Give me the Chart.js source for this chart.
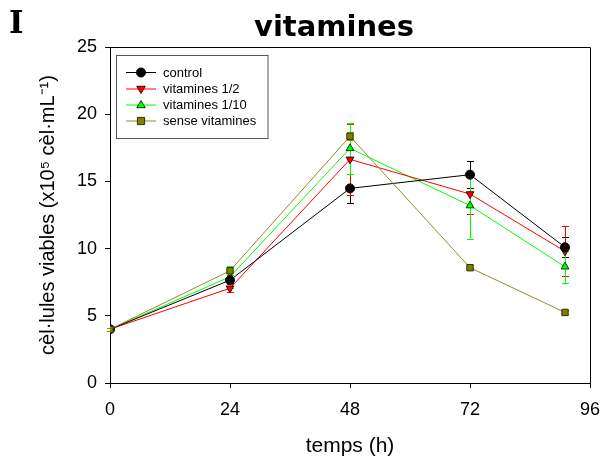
<!DOCTYPE html>
<html>
<head>
<meta charset="utf-8">
<script src="https://cdn.jsdelivr.net/npm/chart.js@4.4.1/dist/chart.umd.min.js"></script>
<style>
  body { margin: 0; background: #fff; }
  canvas { display: block; }
</style>
</head>
<body>
<canvas id="myChart" width="601" height="463"></canvas>
<script>
// temps (h)
var hours = [0, 24, 48, 72, 91];
var xTicks = [0, 24, 48, 72, 96];
var yTicks = [0, 5, 10, 15, 20, 25];

var labels = ['control', 'vitamines 1/2', 'vitamines 1/10', 'sense vitamines'];

var control = [4, 7.65, 14.48, 15.5, 10.1];
var controlErr = [0.1, 0.2, 1.1, 1.0, 0.75];

var vitHalf = [4, 7.05, 16.64, 14.06, 9.8];
var vitHalfErr = [0.1, 0.3, 2.65, 1.5, 1.85];

var vitTenth = [4, 7.9, 17.46, 13.2, 8.65];
var vitTenthErr = [0.1, 0.8, 1.9, 2.45, 1.2];

var noVit = [4, 8.35, 18.35, 8.58, 5.25];
var noVitErr = [0.1, 0.3, 0.3, 0.2, 0.15];

function pts(vals) {
    return vals.map(function (v, i) { return { x: hours[i], y: v }; });
}

var styles = [
    { line: '#000000', fill: '#000000', border: '#000000', shape: 'circle', rot: 0, err: '#000000' },
    { line: '#ff0000', fill: '#ff0000', border: '#400000', shape: 'triangle', rot: 180, err: '#ff0000' },
    { line: '#00ff00', fill: '#00ff00', border: '#004000', shape: 'triangle', rot: 0, err: '#00ff00' },
    { line: '#948a2c', fill: '#808000', border: '#303000', shape: 'rect', rot: 0, err: '#948a2c' }
];
var series = [control, vitHalf, vitTenth, noVit];
var errors = [controlErr, vitHalfErr, vitTenthErr, noVitErr];
var orders = [2, 3, 4, 1];

var datasets = series.map(function (s, i) {
    return {
        label: labels[i],
        data: pts(s),
        err: errors[i],
        borderColor: styles[i].line,
        borderWidth: 1,
        pointBackgroundColor: styles[i].fill,
        pointBorderColor: styles[i].border,
        pointBorderWidth: 1,
        pointStyle: styles[i].shape,
        pointRotation: styles[i].rot,
        pointRadius: 4.5,
        tension: 0,
        order: orders[i]
    };
});

var errorBars = {
    id: 'errorBars',
    beforeDatasetsDraw: function (chart) {
        var c = chart.ctx, ys = chart.scales.y;
        c.save();
        c.lineWidth = 1;
        chart.data.datasets.forEach(function (ds, i) {
            var meta = chart.getDatasetMeta(i);
            c.strokeStyle = styles[i].err;
            meta.data.forEach(function (p, j) {
                var v = ds.data[j].y, e = ds.err[j];
                var top = ys.getPixelForValue(v + e), bot = ys.getPixelForValue(v - e);
                var x = Math.round(p.x) + 0.5;
                c.beginPath();
                c.moveTo(x, top); c.lineTo(x, bot);
                c.moveTo(x - 3.5, Math.round(top) + 0.5); c.lineTo(x + 3.5, Math.round(top) + 0.5);
                c.moveTo(x - 3.5, Math.round(bot) + 0.5); c.lineTo(x + 3.5, Math.round(bot) + 0.5);
                c.stroke();
            });
        });
        c.restore();
    }
};

function marker(c, st, x, y) {
    var r = 4.5;
    c.fillStyle = st.fill;
    c.strokeStyle = st.border;
    c.lineWidth = 1;
    c.beginPath();
    if (st.shape === 'circle') {
        c.arc(x, y, r, 0, Math.PI * 2);
    } else if (st.shape === 'rect') {
        c.rect(x - r * 0.8, y - r * 0.8, r * 1.6, r * 1.6);
    } else {
        var d = st.rot ? -1 : 1;
        c.moveTo(x, y - d * r);
        c.lineTo(x + r * 0.95, y + d * r * 0.6);
        c.lineTo(x - r * 0.95, y + d * r * 0.6);
        c.closePath();
    }
    c.fill();
    c.stroke();
}

var decor = {
    id: 'decor',
    afterDraw: function (chart) {
        var c = chart.ctx, a = chart.chartArea;
        c.save();
        // box top + right
        c.strokeStyle = '#000';
        c.lineWidth = 1;
        c.beginPath();
        c.moveTo(a.left, Math.round(a.top) + 0.5);
        c.lineTo(Math.round(a.right) + 0.5, Math.round(a.top) + 0.5);
        c.lineTo(Math.round(a.right) + 0.5, a.bottom);
        c.stroke();

        // titles
        c.fillStyle = '#000';
        c.textBaseline = 'alphabetic';
        c.font = 'bold 31px "DejaVu Serif"';
        c.textAlign = 'left';
        c.fillText('I', 9, 33);
        c.font = 'bold 29px "DejaVu Sans"';
        c.textAlign = 'center';
        c.fillText('vitamines', 334, 36);

        // legend
        c.strokeStyle = '#555';
        c.strokeRect(116.5, 55.5, 151.5, 83);
        var rows = [72, 88.5, 104.5, 120.5];
        c.font = '13px "Liberation Sans"';
        c.textAlign = 'left';
        c.textBaseline = 'middle';
        labels.forEach(function (l, i) {
            var st = styles[i], y = rows[i];
            c.strokeStyle = st.line;
            c.beginPath();
            c.moveTo(126, y + 0.5); c.lineTo(156, y + 0.5);
            c.stroke();
            marker(c, st, 141, y + 0.5);
            c.fillStyle = '#000';
            c.fillText(l, 163, y + 1);
        });
        c.restore();
    }
};

var ctx = document.getElementById('myChart').getContext('2d');
var myChart = new Chart(ctx, {
    type: 'line',
    data: { datasets: datasets },
    options: {
        responsive: false,
        animation: false,
        layout: { padding: { top: 47, right: 11, left: 0, bottom: 0 } },
        plugins: { legend: { display: false }, tooltip: { enabled: false } },
        scales: {
            x: {
                type: 'linear',
                min: 0, max: 96,
                afterFit: function (s) { s.height = 80; s.paddingLeft = 0; s.paddingRight = 0; },
                afterBuildTicks: function (s) { s.ticks = xTicks.map(function (v) { return { value: v }; }); },
                grid: { drawOnChartArea: false, drawTicks: true, tickLength: 5, color: '#000' },
                border: { display: true, color: '#000', width: 1 },
                ticks: { color: '#000', padding: 11, font: { family: 'Liberation Sans', size: 18 } },
                title: { display: true, text: 'temps (h)', color: '#000', padding: { bottom: 4 }, font: { family: 'Liberation Sans', size: 21 } }
            },
            y: {
                min: 0, max: 25,
                afterFit: function (s) { s.width = 110; s.paddingTop = 0; s.paddingBottom = 0; },
                afterBuildTicks: function (s) { s.ticks = yTicks.map(function (v) { return { value: v }; }); },
                grid: { drawOnChartArea: false, drawTicks: true, tickLength: 5, color: '#000' },
                border: { display: true, color: '#000', width: 1 },
                ticks: { color: '#000', padding: 8, font: { family: 'Liberation Sans', size: 18 } },
                title: { display: true, text: 'cèl·lules viables (x10⁵ cèl·mL⁻¹)', color: '#000', padding: { top: 36 }, font: { family: 'Liberation Sans', size: 20 } }
            }
        }
    },
    plugins: [errorBars, decor]
});
</script>
</body>
</html>
